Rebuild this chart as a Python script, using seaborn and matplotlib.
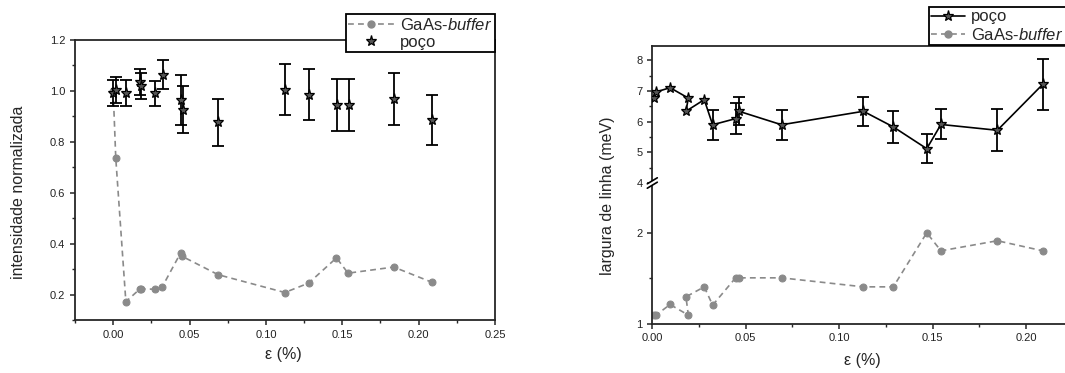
import numpy as np
import pandas as pd
import matplotlib
matplotlib.use("Agg")
import matplotlib.pyplot as plt
import seaborn as sns
from matplotlib.ticker import MultipleLocator

# ---------------- data ----------------
# left panel: normalised intensity
eps_left_well = [0.000, 0.002, 0.0083, 0.0175, 0.0185, 0.0277, 0.0327, 0.0447, 0.0454,
                 0.0687, 0.1128, 0.1283, 0.1466, 0.1542, 0.1839, 0.209]
int_well = [0.992, 1.005, 0.99, 1.036, 1.02, 0.99, 1.064, 0.964, 0.926,
            0.877, 1.005, 0.985, 0.945, 0.945, 0.968, 0.885]
int_well_err = [0.052, 0.051, 0.051, 0.051, 0.05, 0.05, 0.056, 0.099, 0.092,
                0.092, 0.099, 0.1, 0.102, 0.102, 0.102, 0.098]

eps_left_buf = [0.000, 0.0017, 0.0083, 0.0175, 0.0185, 0.0277, 0.032, 0.0443, 0.0452,
                0.0687, 0.1124, 0.128, 0.1462, 0.1538, 0.1837, 0.2088]
int_buf = [1.0, 0.735, 0.172, 0.222, 0.222, 0.221, 0.229, 0.365, 0.35,
           0.278, 0.208, 0.245, 0.344, 0.284, 0.308, 0.248]

# right panel: linewidth (meV)
eps_right = [0.001, 0.002, 0.0095, 0.0193, 0.018, 0.0278, 0.0323, 0.0446, 0.0464,
             0.0692, 0.113, 0.129, 0.1469, 0.1545, 0.1847, 0.209]
lw_well = [6.77, 6.97, 7.11, 6.77, 6.34, 6.72, 5.90, 6.10, 6.34,
           5.90, 6.34, 5.83, 5.12, 5.91, 5.72, 7.22]
lw_well_err = [0, 0, 0, 0, 0, 0, 0.49, 0.50, 0.45,
               0.49, 0.48, 0.52, 0.48, 0.49, 0.69, 0.84]
lw_buf = [1.093, 1.093, 1.211, 1.093, 1.296, 1.407, 1.204, 1.507, 1.507,
          1.507, 1.407, 1.407, 2.007, 1.807, 1.919, 1.807]

xlabel = "ε (%)"
ylabel_left = "intensidade normalizada"
ylabel_right = "largura de linha (meV)"
label_well = "poço"
label_buf = r"GaAs-$\it{buffer}$"

# ---------------- style ----------------
sns.set_style("ticks")
plt.rcParams["font.family"] = ["Liberation Sans", "DejaVu Sans"]
plt.rcParams["mathtext.fontset"] = "custom"
plt.rcParams["mathtext.it"] = "Liberation Sans:italic"
plt.rcParams["mathtext.rm"] = "Liberation Sans"
plt.rcParams["axes.linewidth"] = 1.3
plt.rcParams["xtick.major.width"] = 1.1
plt.rcParams["ytick.major.width"] = 1.1
plt.rcParams["xtick.minor.width"] = 1.0
plt.rcParams["ytick.minor.width"] = 1.0
plt.rcParams["xtick.major.size"] = 3.5
plt.rcParams["ytick.major.size"] = 3.5
plt.rcParams["xtick.minor.size"] = 2.0
plt.rcParams["ytick.minor.size"] = 2.0

GRAY = "#8a8a8a"
TICKC = "#222222"
tick_fs = 8
label_fs = 11.5
leg_fs = 12

well_style = dict(marker="*", markersize=8, markerfacecolor="#555555",
                  markeredgecolor="black", markeredgewidth=0.9)
buf_style = dict(marker="o", markersize=5, markerfacecolor=GRAY,
                 markeredgecolor=GRAY, color=GRAY, linewidth=1.2)
DASH = (0, (3.5, 2.5))

W, H = 1065, 373
fig = plt.figure(figsize=(W / 100, H / 100), dpi=100)


def fx(px):
    return px / W


def fy(py):
    return 1 - py / H


# ---------------- left panel ----------------
axL = fig.add_axes([fx(75), fy(320), fx(495) - fx(75), fy(40) - fy(320)])
df_lb = pd.DataFrame({"x": eps_left_buf, "y": int_buf})
sns.lineplot(data=df_lb, x="x", y="y", ax=axL, sort=False, estimator=None,
             linestyle=DASH, **buf_style)
axL.errorbar(eps_left_well, int_well, yerr=int_well_err, fmt="none",
             ecolor="black", elinewidth=1.3, capsize=4.3, capthick=1.3, zorder=3)
sns.lineplot(x=eps_left_well, y=int_well, ax=axL, sort=False, estimator=None,
             linestyle="none", zorder=4, **well_style)
axL.set_xlim(-0.025, 0.25)
axL.set_ylim(0.1, 1.2)
axL.xaxis.set_major_locator(MultipleLocator(0.05))
axL.xaxis.set_minor_locator(MultipleLocator(0.025))
axL.yaxis.set_major_locator(MultipleLocator(0.2))
axL.yaxis.set_minor_locator(MultipleLocator(0.1))
axL.xaxis.set_major_formatter(matplotlib.ticker.FormatStrFormatter("%.2f"))
axL.yaxis.set_major_formatter(matplotlib.ticker.FormatStrFormatter("%.1f"))
axL.tick_params(which="both", direction="out", labelsize=tick_fs, labelcolor=TICKC)
for s in axL.spines.values():
    s.set_visible(True)
axL.set_xlabel("")
axL.set_ylabel("")
fig.text(fx(283), fy(354), xlabel, ha="center", va="center", fontsize=label_fs)
fig.text(fx(18.5), fy(192), ylabel_left, rotation=90, ha="center", va="center",
         fontsize=label_fs)

hb = matplotlib.lines.Line2D([], [], linestyle=DASH, **buf_style)
hw = matplotlib.lines.Line2D([], [], linestyle="none", **well_style)
legL = fig.legend([hb, hw], [label_buf, label_well], loc="upper right",
                  bbox_to_anchor=(fx(494.5), fy(14)), fontsize=leg_fs, frameon=True,
                  fancybox=False, framealpha=1, edgecolor="black",
                  borderaxespad=0, handlelength=2.8, handletextpad=0.3,
                  labelspacing=0.12, borderpad=0.15)
legL.get_frame().set_linewidth(1.3)

# ---------------- right panel (broken y axis) ----------------
left_r, right_r = fx(652.3), 1.0
axU = fig.add_axes([left_r, fy(183), right_r - left_r, fy(46) - fy(183)])
axD = fig.add_axes([left_r, fy(323.5), right_r - left_r, fy(183) - fy(323.5)])

m = [e > 0 for e in lw_well_err]
axU.errorbar(np.array(eps_right)[m], np.array(lw_well)[m], yerr=np.array(lw_well_err)[m],
             fmt="none", ecolor="black", elinewidth=1.3, capsize=4.3, capthick=1.3, zorder=3)
sns.lineplot(x=eps_right, y=lw_well, ax=axU, sort=False, estimator=None,
             color="black", linewidth=1.2, zorder=4, **well_style)
sns.lineplot(x=eps_right, y=lw_buf, ax=axD, sort=False, estimator=None,
             linestyle=DASH, **buf_style)

for ax in (axU, axD):
    ax.set_xlim(0, 0.2209)
    ax.spines["right"].set_visible(False)
    ax.tick_params(which="both", direction="out", labelsize=tick_fs, labelcolor=TICKC)
    ax.set_xlabel("")
    ax.set_ylabel("")
axU.set_ylim(4, 8.47)
axD.set_ylim(1, 2.56)
axU.spines["bottom"].set_visible(False)
axD.spines["top"].set_visible(False)
axU.tick_params(axis="x", which="both", bottom=False, labelbottom=False)
axU.yaxis.set_major_locator(MultipleLocator(1))
axU.yaxis.set_minor_locator(MultipleLocator(0.5))
axD.yaxis.set_major_locator(matplotlib.ticker.FixedLocator([1, 2]))
axD.yaxis.set_minor_locator(matplotlib.ticker.FixedLocator([1.5]))
axU.yaxis.set_major_formatter(matplotlib.ticker.FormatStrFormatter("%d"))
axD.yaxis.set_major_formatter(matplotlib.ticker.FormatStrFormatter("%d"))
axD.xaxis.set_major_locator(MultipleLocator(0.05))
axD.xaxis.set_minor_locator(MultipleLocator(0.025))
axD.xaxis.set_major_formatter(matplotlib.ticker.FormatStrFormatter("%.2f"))
fig.text(fx(862), fy(361), xlabel, ha="center", va="center", fontsize=label_fs)
fig.text(fx(607), fy(196), ylabel_right, rotation=90, ha="center", va="center",
         fontsize=label_fs)

# break marks on the left spine
bx, by = fx(652.3), fy(183)
dx, dy = fx(5), 3.0 / H
gap = 2.2 / H
fig.add_artist(matplotlib.patches.Rectangle((bx - fx(3), by - gap), fx(6), 2 * gap,
                                            facecolor="white", edgecolor="none",
                                            transform=fig.transFigure, zorder=10))
for off in (gap, -gap):
    fig.add_artist(matplotlib.lines.Line2D([bx - dx, bx + dx], [by + off - dy, by + off + dy],
                                           color="black", linewidth=1.2,
                                           transform=fig.transFigure, zorder=11))

hw2 = matplotlib.lines.Line2D([], [], color="black", linewidth=1.2, **well_style)
hb2 = matplotlib.lines.Line2D([], [], linestyle=DASH, **buf_style)
legR = fig.legend([hw2, hb2], [label_well, label_buf], loc="upper right",
                  bbox_to_anchor=(fx(1066), fy(7)), fontsize=leg_fs, frameon=True,
                  fancybox=False, framealpha=1, edgecolor="black",
                  borderaxespad=0, handlelength=2.0, handletextpad=0.4,
                  labelspacing=0.12, borderpad=0.15)
legR.get_frame().set_linewidth(1.3)

fig.savefig("out.png", dpi=100)
